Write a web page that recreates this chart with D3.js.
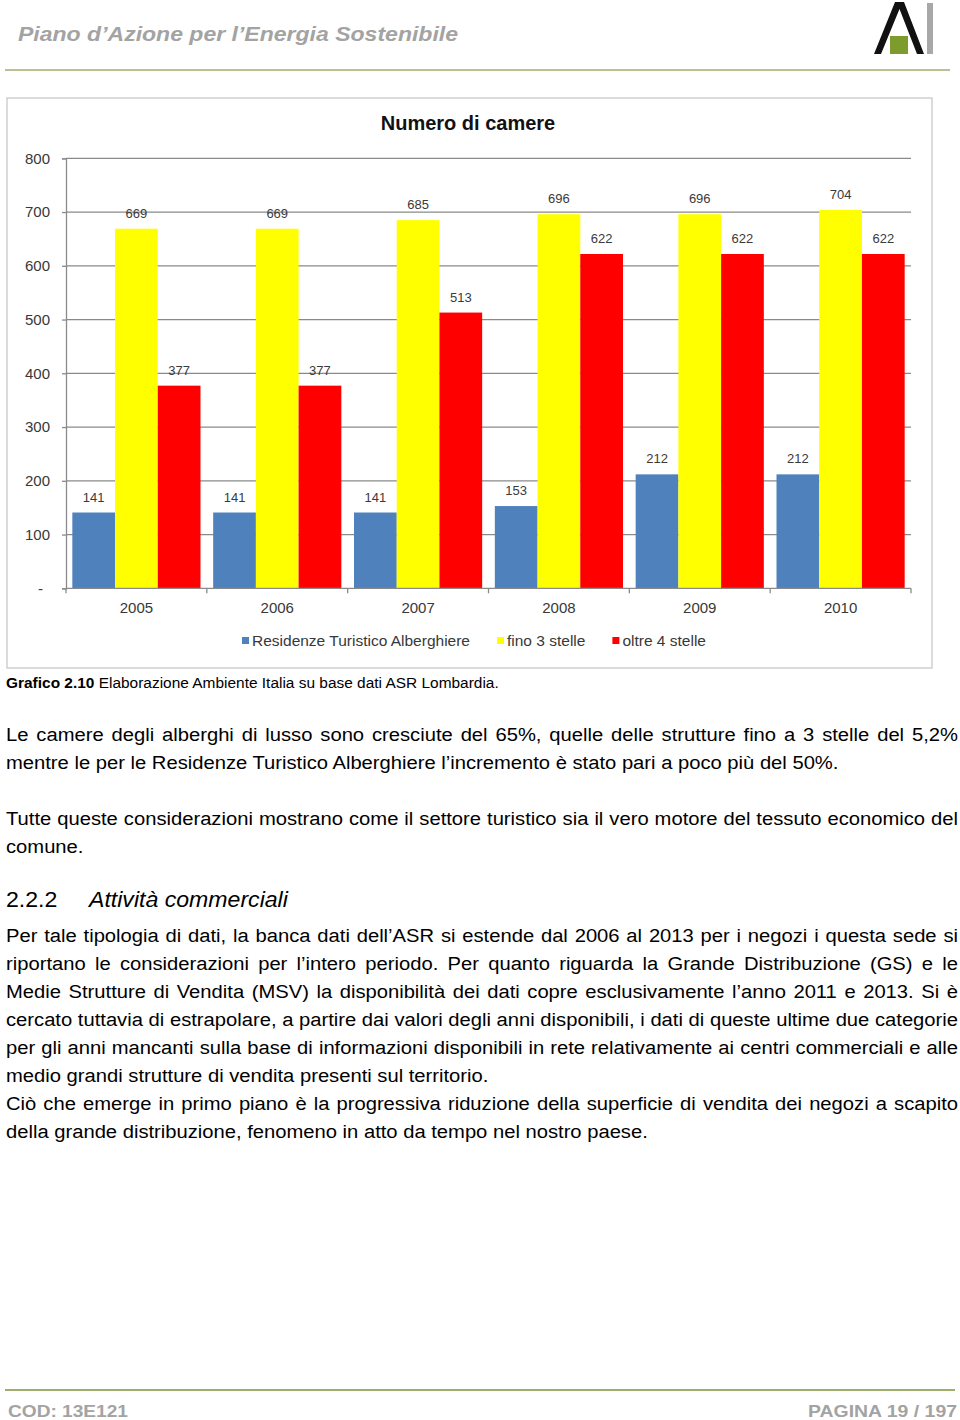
<!DOCTYPE html>
<meta charset="utf-8">
<script src="https://cdn.jsdelivr.net/npm/d3@7"></script>
<style>
  body { margin: 0; background: #fff; }
  svg { display: block; }
</style>
<div id="page"></div>
<script>
// chart values
var years = ["2005", "2006", "2007", "2008", "2009", "2010"];
var seriesNames = ["Residenze Turistico Alberghiere", "fino 3 stelle", "oltre 4 stelle"];
var rta = [141, 141, 141, 153, 212, 212];
var fino3 = [669, 669, 685, 696, 696, 704];
var oltre4 = [377, 377, 513, 622, 622, 622];
var yTicks = [0, 100, 200, 300, 400, 500, 600, 700, 800];
var seriesColors = ["#4F81BD", "#FFFF00", "#FF0000"];

var svg = d3.select("#page").append("svg")
  .attr("width", 960)
  .attr("height", 1420);

var FONT = "Arial, 'Liberation Sans', sans-serif";

// ---- page header ----
svg.append("text")
  .attr("x", 18).attr("y", 41)
  .attr("textLength", 440).attr("lengthAdjust", "spacingAndGlyphs")
  .style("font-family", FONT).style("font-size", "21px")
  .style("font-weight", "bold").style("font-style", "italic")
  .style("fill", "#A3A3A3")
  .text("Piano d\u2019Azione per l\u2019Energia Sostenibile");

svg.append("line")
  .attr("x1", 5).attr("x2", 950).attr("y1", 70).attr("y2", 70)
  .style("stroke", "#9EAE6C").style("stroke-width", 1.5);

// logo
svg.append("polygon")
  .attr("points", "874,54 895,2 904,2 924,54 917,54 899.5,9 881,54")
  .style("fill", "#111");
svg.append("rect").attr("x", 890).attr("y", 36).attr("width", 18).attr("height", 18)
  .style("fill", "#7E9B2E");
svg.append("rect").attr("x", 927).attr("y", 3).attr("width", 6).attr("height", 51)
  .style("fill", "#A8A8A8");

// ---- chart ----
svg.append("rect")
  .attr("x", 7).attr("y", 98).attr("width", 925).attr("height", 570)
  .style("fill", "#fff").style("stroke", "#C4C4C4").style("stroke-width", 1.2);

svg.append("text")
  .attr("x", 468).attr("y", 130)
  .attr("text-anchor", "middle")
  .style("font-family", FONT).style("font-size", "20px").style("font-weight", "bold")
  .style("fill", "#111")
  .text("Numero di camere");

var plot = { left: 66, right: 911, top: 158.3, bottom: 588.3 };

var x0 = d3.scaleBand()
  .domain(years)
  .range([plot.left, plot.right])
  .paddingInner(0.09)
  .paddingOuter(0.045);

var x1 = d3.scaleBand()
  .domain(d3.range(seriesNames.length))
  .range([0, x0.bandwidth()]);

var y = d3.scaleLinear()
  .domain([0, 800])
  .range([plot.bottom, plot.top]);

// gridlines
svg.append("g")
  .selectAll("line")
  .data(yTicks.filter(function(d) { return d > 0; }))
  .enter().append("line")
    .attr("x1", plot.left).attr("x2", plot.right)
    .attr("y1", function(d) { return y(d); })
    .attr("y2", function(d) { return y(d); })
    .style("stroke", "#8A8A8A").style("stroke-width", 1.3);

// y axis
var yAxis = svg.append("g")
  .attr("transform", "translate(" + plot.left + ",0)")
  .call(d3.axisLeft(y).tickValues(yTicks).tickSize(4).tickPadding(12)
    .tickFormat(function(d) { return d === 0 ? "-" : d; }));
yAxis.select(".domain").style("stroke", "#8A8A8A").style("stroke-width", 1.3);
yAxis.selectAll(".tick line").style("stroke", "#8A8A8A").style("stroke-width", 1.3);
yAxis.selectAll(".tick text")
  .style("font-family", FONT).style("font-size", "15px").style("fill", "#383838")
  .attr("dx", function(d) { return d === 0 ? -7 : 0; });

// bars
var table = years.map(function(yr, i) { return { year: yr, values: [rta[i], fino3[i], oltre4[i]] }; });

var groups = svg.append("g")
  .selectAll("g")
  .data(table)
  .enter().append("g")
    .attr("transform", function(d) { return "translate(" + x0(d.year) + ",0)"; });

groups.selectAll("rect")
  .data(function(d) { return d.values; })
  .enter().append("rect")
    .attr("x", function(d, i) { return x1(i); })
    .attr("y", function(d) { return y(d); })
    .attr("width", x1.bandwidth())
    .attr("height", function(d) { return y(0) - y(d); })
    .style("fill", function(d, i) { return seriesColors[i]; });

groups.selectAll("text")
  .data(function(d) { return d.values; })
  .enter().append("text")
    .attr("x", function(d, i) { return x1(i) + x1.bandwidth() / 2; })
    .attr("y", function(d) { return y(d) - 11; })
    .attr("text-anchor", "middle")
    .style("font-family", FONT).style("font-size", "13px").style("fill", "#3A3A3A")
    .text(function(d) { return d; });

// x axis
var xAxis = svg.append("g")
  .attr("transform", "translate(0," + plot.bottom + ")")
  .call(d3.axisBottom(x0).tickSize(0).tickPadding(14));
xAxis.select(".domain").remove();
xAxis.selectAll(".tick text")
  .style("font-family", FONT).style("font-size", "15px").style("fill", "#383838");
xAxis.append("line")
  .attr("x1", plot.left).attr("x2", plot.right).attr("y1", 0).attr("y2", 0)
  .style("stroke", "#8A8A8A").style("stroke-width", 1.3);
xAxis.selectAll(".sep")
  .data(d3.range(years.length + 1))
  .enter().append("line")
    .attr("x1", function(i) { return plot.left + i * x0.step(); })
    .attr("x2", function(i) { return plot.left + i * x0.step(); })
    .attr("y1", 0).attr("y2", 5)
    .style("stroke", "#8A8A8A").style("stroke-width", 1.3);

// legend
var legend = svg.append("g").attr("transform", "translate(242,641)");
var lx = 0;
seriesNames.forEach(function(name, i) {
  legend.append("rect")
    .attr("x", lx).attr("y", -4).attr("width", 7).attr("height", 7)
    .style("fill", seriesColors[i]);
  var t = legend.append("text")
    .attr("x", lx + 10).attr("y", 5)
    .style("font-family", FONT).style("font-size", "15.5px").style("fill", "#383838")
    .text(name);
  lx += 10 + t.node().getComputedTextLength() + 27;
});

// ---- text helpers (source font renders a little wider than Arial) ----
function wideText(x, yy, sx, size) {
  return svg.append("g")
    .attr("transform", "translate(" + x + "," + yy + ") scale(" + sx + ",1)")
    .append("text")
    .style("font-family", FONT).style("font-size", size + "px").style("fill", "#000");
}

// caption
var cap = wideText(6, 688, 1.03, 15);
cap.append("tspan").style("font-weight", "bold").text("Grafico 2.10");
cap.append("tspan").text(" Elaborazione Ambiente Italia su base dati ASR Lombardia.");

// body text
var SX = 1.063;
function textLine(str, yy, width, justify) {
  var t = wideText(6, yy, SX, 19);
  if (!justify) { t.text(str); return t; }
  var w = width / SX;
  var words = str.split(" ");
  var spans = words.map(function(wd) { return t.append("tspan").text(wd); });
  var widths = spans.map(function(s) { return s.node().getComputedTextLength(); });
  var gap = (w - d3.sum(widths)) / (words.length - 1);
  var cx = 0;
  spans.forEach(function(s, i) { s.attr("x", cx); cx += widths[i] + gap; });
  return t;
}

var W = 952;
var lines = [
  [741, "Le camere degli alberghi di lusso sono cresciute del 65%, quelle delle strutture fino a 3 stelle del 5,2%", true],
  [769, "mentre le per le Residenze Turistico Alberghiere l\u2019incremento \u00e8 stato pari a poco pi\u00f9 del 50%.", false],
  [825, "Tutte queste considerazioni mostrano come il settore turistico sia il vero motore del tessuto economico del", true],
  [853, "comune.", false],
  [942, "Per tale tipologia di dati, la banca dati dell\u2019ASR si estende dal 2006 al 2013 per i negozi i questa sede si", true],
  [970, "riportano le considerazioni per l\u2019intero periodo. Per quanto riguarda la Grande Distribuzione (GS) e le", true],
  [998, "Medie Strutture di Vendita (MSV) la disponibilit\u00e0 dei dati copre esclusivamente l\u2019anno 2011 e 2013. Si \u00e8", true],
  [1026, "cercato tuttavia di estrapolare, a partire dai valori degli anni disponibili, i dati di queste ultime due categorie", true],
  [1054, "per gli anni mancanti sulla base di informazioni disponibili in rete relativamente ai centri commerciali e alle", true],
  [1082, "medio grandi strutture di vendita presenti sul territorio.", false],
  [1110, "Ci\u00f2 che emerge in primo piano \u00e8 la progressiva riduzione della superficie di vendita dei negozi a scapito", true],
  [1138, "della grande distribuzione, fenomeno in atto da tempo nel nostro paese.", false]
];
lines.forEach(function(l) { textLine(l[1], l[0], W, l[2]); });

wideText(6, 907, 1.05, 22).text("2.2.2");
wideText(89, 907, 1.05, 22).style("font-style", "italic").text("Attivit\u00e0 commerciali");

// ---- footer ----
svg.append("line")
  .attr("x1", 5).attr("x2", 955).attr("y1", 1390).attr("y2", 1390)
  .style("stroke", "#9EAE6C").style("stroke-width", 2);
svg.append("text")
  .attr("x", 8).attr("y", 1417)
  .attr("textLength", 120).attr("lengthAdjust", "spacingAndGlyphs")
  .style("font-family", FONT).style("font-size", "17px").style("font-weight", "bold")
  .style("fill", "#A3A3A3")
  .text("COD: 13E121");
svg.append("text")
  .attr("x", 808).attr("y", 1417)
  .attr("textLength", 149).attr("lengthAdjust", "spacingAndGlyphs")
  .style("font-family", FONT).style("font-size", "17px").style("font-weight", "bold")
  .style("fill", "#A3A3A3")
  .text("PAGINA 19 / 197");
</script>
